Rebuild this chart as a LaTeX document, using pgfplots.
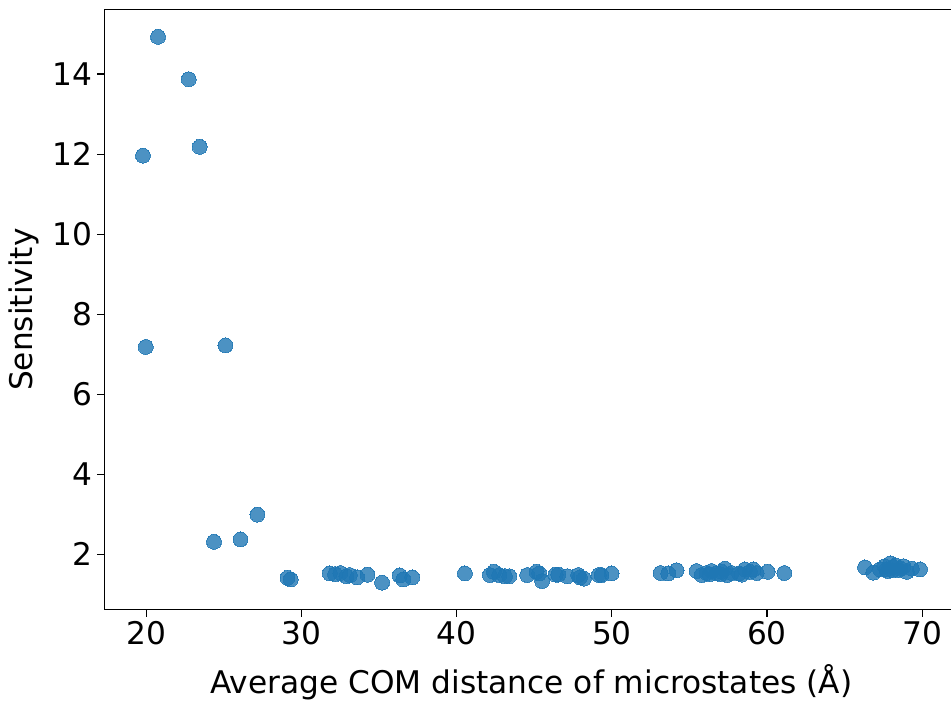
\documentclass[border=0pt]{standalone}
\usepackage{pgfplots}
\pgfplotsset{compat=1.18}
\usepackage{fontspec}
\setmainfont{DejaVu Sans}
\definecolor{mplblue}{HTML}{1F77B4}
\begin{document}
\begin{tikzpicture}
\begin{axis}[
  at={(0,0)}, anchor=south west,
  scale only axis,
  width=640.8pt, height=450pt,
  xmin=17.25, xmax=72.37,
  ymin=0.61, ymax=15.61,
  xtick={20,30,40,50,60,70},
  ytick={2,4,6,8,10,12,14},
  tick pos=left,
  tick align=outside,
  major tick length=5.25pt,
  tick style={black, line width=0.8pt},
  axis line style={line width=0.8pt},
  /pgf/number format/assume math mode=true,
  ticklabel style={font=\fontsize{23.4}{27}\selectfont},
  label style={font=\fontsize{23.4}{27}\selectfont},
  xlabel={Average COM distance of microstates (Å)},
  ylabel={Sensitivity},
  xlabel style={at={(axis description cs:0.5,0)}, anchor=base, yshift=-62.6pt},
  ylabel style={at={(axis description cs:0,0.5)}, anchor=base, yshift=53.3pt},
  clip=false,
]
\addplot[only marks, mark=*, mark size=5.6pt,
  mark options={line width=0pt, draw=mplblue, fill=mplblue, opacity=0.8}]
coordinates {
(20.73,14.93) (22.71,13.87) (23.42,12.18) (19.76,11.96) (19.94,7.18) (25.08,7.22)
(24.34,2.31) (26.05,2.37) (27.14,2.99)
(29.08,1.41) (29.29,1.37)
(31.81,1.52) (32.15,1.50) (32.49,1.53) (32.88,1.45) (33.10,1.48) (33.57,1.42)
(34.24,1.49) (35.18,1.29) (36.32,1.47) (36.54,1.37) (37.12,1.42)
(40.52,1.52) (42.13,1.48) (42.39,1.56) (42.73,1.48) (43.10,1.45) (43.38,1.45)
(44.54,1.48) (45.14,1.56) (45.31,1.52) (45.50,1.33) (46.37,1.49) (46.54,1.49)
(47.12,1.45) (47.83,1.48) (47.94,1.42) (48.19,1.39) (49.16,1.48) (49.33,1.48)
(49.98,1.52)
(53.14,1.53) (53.63,1.52) (54.17,1.60)
(55.46,1.58) (55.78,1.48) (56.11,1.53) (56.43,1.58) (56.75,1.52) (56.30,1.50)
(57.08,1.56) (57.29,1.64) (57.44,1.48) (57.72,1.53) (57.00,1.50)
(58.37,1.49) (58.58,1.62) (58.90,1.56) (59.12,1.62) (59.33,1.53) (58.20,1.52)
(60.04,1.56) (61.12,1.53)
(66.32,1.67) (66.86,1.54) (67.29,1.62) (67.60,1.70) (67.94,1.77) (68.15,1.68)
(67.80,1.58) (68.47,1.60) (68.30,1.72) (68.80,1.70) (69.02,1.56) (68.60,1.64)
(69.34,1.64) (69.87,1.62) (67.70,1.62) (68.10,1.60)
};
\end{axis}
\pgfresetboundingbox
\useasboundingbox (-78pt,-67.8pt) rectangle (634.95pt,457.2pt);
\end{tikzpicture}
\end{document}
